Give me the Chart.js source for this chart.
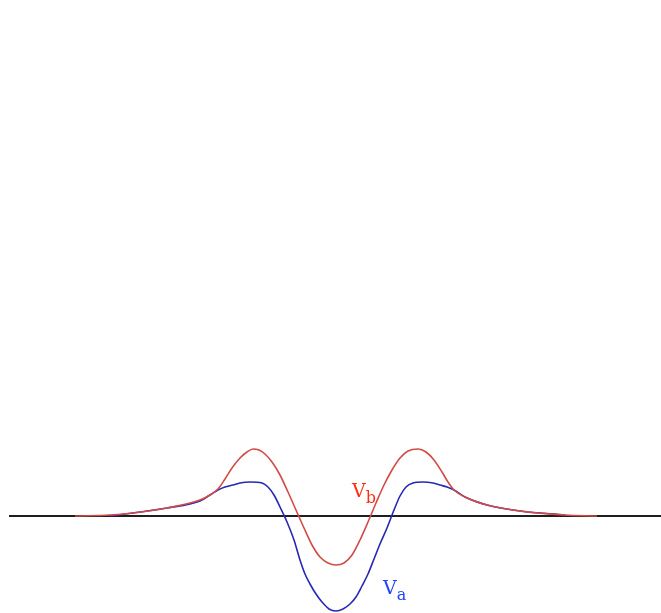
<!DOCTYPE html>
<html lang="en">
<head>
    <meta charset="UTF-8">
    <title>Va Vb</title>
    <style>
        body { margin: 0; background: #fff; }
        .chart-container { width: 661px; height: 613px; }
    </style>
</head>
<body>
    <div class="chart-container">
        <canvas id="wave-chart" width="661" height="613"></canvas>
    </div>

    <script src="https://cdn.jsdelivr.net/npm/chart.js"></script>
    <script>
        // position along the line (0 = centre) and voltage
        var baseX = [-327, 325];
        var baseY = [0, 0];

        var vbX = [-261, -226, -203, -169, -136, -126, -118, -111, -104, -96, -89, -83, -77, -71, -64, -56, -48, -40, -32, -24, -16, -8, 0,
                   8, 16, 24, 32, 40, 48, 56, 64, 72, 82, 90, 98, 106, 112, 118, 129, 151, 184, 229, 261];
        var vbY = [0, 1, 3, 8, 16, 21, 27, 37, 48, 58, 64, 67, 66, 62, 54, 41, 24, 6, -12, -29, -41, -47, -49,
                   -47, -39, -24, -6, 13, 31, 46, 58, 65, 67, 64, 56, 44, 34, 26, 19, 11, 5, 1, 0];

        var vaX = [-226, -203, -169, -136, -126, -118, -111, -103, -96, -86, -74, -68, -62, -56, -49, -42, -36, -31, -26, -20, -14, -7, 0,
                   7, 14, 20, 26, 32, 38, 44, 51, 58, 64, 70, 77, 87, 97, 104, 111, 118, 129, 151, 184, 229];
        var vaY = [0, 3, 8, 15, 21, 26, 29, 31, 33, 34, 33, 29, 21, 9, -6, -24, -44, -58, -68, -78, -86, -93, -95,
                   -93, -88, -81, -70, -58, -43, -28, -12, 6, 20, 29, 33, 34, 33, 31, 29, 26, 19, 11, 5, 1];

        var labelText = ['V', 'V'];
        var labelSub = ['b', 'a'];

        function pts(xs, ys) {
            return xs.map(function (x, i) { return { x: x, y: ys[i] }; });
        }

        var labelPos = [
            { x: 16, y: 19, color: 'rgb(255, 45, 15)' },
            { x: 47, y: -78, color: 'rgb(35, 65, 255)' }
        ];

        var labelPlugin = {
            id: 'curveLabels',
            afterDatasetsDraw: function (chart) {
                var c = chart.ctx;
                var sx = chart.scales.x, sy = chart.scales.y;
                c.save();
                c.textBaseline = 'alphabetic';
                labelPos.forEach(function (p, i) {
                    var px = sx.getPixelForValue(p.x);
                    var py = sy.getPixelForValue(p.y);
                    c.fillStyle = p.color;
                    c.font = '19px "DejaVu Serif"';
                    c.fillText(labelText[i], px, py);
                    var w = c.measureText(labelText[i]).width;
                    c.font = '16px "DejaVu Serif"';
                    c.fillText(labelSub[i], px + w, py + 6);
                });
                c.restore();
            }
        };

        var ctx = document.getElementById('wave-chart').getContext('2d');

        var chart = new Chart(ctx, {
            type: 'line',
            data: {
                datasets: [{
                    label: 'Va',
                    data: pts(vaX, vaY),
                    borderColor: 'rgb(40, 40, 180)',
                    borderWidth: 1.6,
                    pointRadius: 0,
                    cubicInterpolationMode: 'monotone',
                    order: 2
                }, {
                    label: 'Vb',
                    data: pts(vbX, vbY),
                    borderColor: 'rgb(210, 75, 70)',
                    borderWidth: 1.6,
                    pointRadius: 0,
                    cubicInterpolationMode: 'monotone',
                    order: 1
                }, {
                    label: 'base',
                    data: pts(baseX, baseY),
                    borderColor: 'rgb(30, 30, 30)',
                    borderWidth: 1.8,
                    pointRadius: 0,
                    order: 3
                }]
            },
            options: {
                responsive: false,
                animation: false,
                layout: { padding: 0 },
                plugins: {
                    legend: { display: false },
                    tooltip: { enabled: false }
                },
                scales: {
                    x: { type: 'linear', min: -336, max: 325, display: false },
                    y: { type: 'linear', min: -97, max: 516, display: false }
                }
            },
            plugins: [labelPlugin]
        });
    </script>
</body>
</html>
